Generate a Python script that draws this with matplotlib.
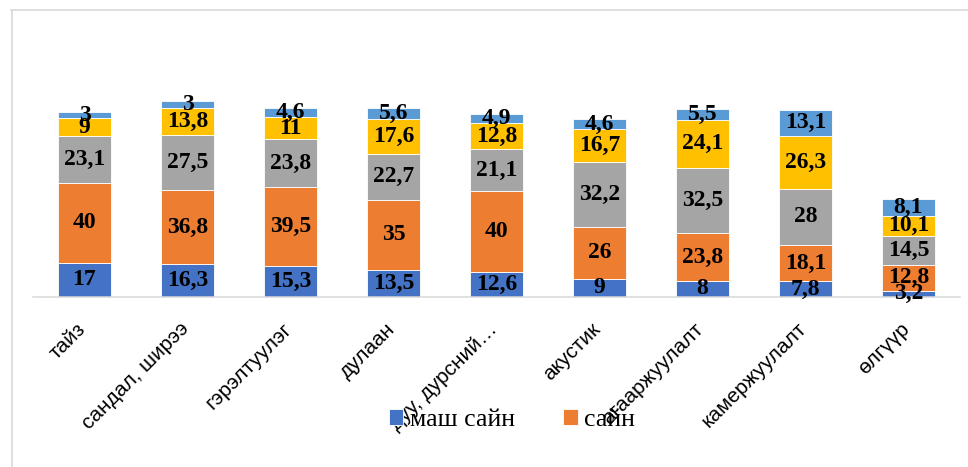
import numpy as np
import matplotlib
matplotlib.use("Agg")
import matplotlib.pyplot as plt
import matplotlib.transforms as mtransforms
from matplotlib.lines import Line2D

# categories along the x axis
categories = ["тайз", "сандал, ширээ", "гэрэлтуулэг", "дулаан", "дуу, дурсний…",
              "акустик", "агааржуулалт", "камержуулалт", "өлгүүр"]

# stacked series, bottom to top
s_mash_sain = [17, 16.3, 15.3, 13.5, 12.6, 9, 8, 7.8, 3.2]
s_sain = [40, 36.8, 39.5, 35, 40, 26, 23.8, 18.1, 12.8]
s_gray = [23.1, 27.5, 23.8, 22.7, 21.1, 32.2, 32.5, 28, 14.5]
s_yellow = [9, 13.8, 11, 17.6, 12.8, 16.7, 24.1, 26.3, 10.1]
s_lightblue = [3, 3, 4.6, 5.6, 4.9, 4.6, 5.5, 13.1, 8.1]

series = [s_mash_sain, s_sain, s_gray, s_yellow, s_lightblue]
legend_names = ["маш сайн", "сайн"]
colors = ["#4472C4", "#ED7D31", "#A5A5A5", "#FFC000", "#5B9BD5"]

fig = plt.figure(figsize=(9.68, 4.67), dpi=100)
ax = fig.add_axes([33/968, (467-297)/467, 927/968, 277/467])

x = np.arange(len(categories))
bottom = np.zeros(len(categories))
bars = []
for vals, c in zip(series, colors):
    vals = np.array(vals, dtype=float)
    b = ax.bar(x, vals, width=0.505, bottom=bottom, color=c,
               edgecolor="white", linewidth=0.6)
    bars.append(b)
    labels = [("%g" % v).replace(".", ",") for v in vals]
    ax.bar_label(b, labels=labels, label_type="center",
                 fontfamily="Liberation Serif", fontweight="bold",
                 fontsize=17, color="black")
    bottom += vals

ax.set_xlim(-0.5, len(categories) - 0.5)
ax.set_ylim(0, 138)
ax.set_yticks([])
for s in ["top", "right", "left"]:
    ax.spines[s].set_visible(False)
ax.spines["bottom"].set_color("#d9d9d9")
ax.spines["bottom"].set_linewidth(1.1)

ax.set_xticks(x)
ax.set_xticklabels(categories, rotation=45, ha="right", va="top",
                   fontfamily="Liberation Sans", fontsize=15)
ax.tick_params(axis="x", length=0, pad=16)
offset = mtransforms.ScaledTranslation(5/100, 0, fig.dpi_scale_trans)
for lab in ax.get_xticklabels():
    lab.set_transform(lab.get_transform() + offset)

leg = fig.legend([bars[0], bars[1]], legend_names, loc="center",
                 bbox_to_anchor=(512/968, (467-420)/467), ncol=2,
                 frameon=False, borderpad=0, handlelength=0.56,
                 handleheight=0.56, handletextpad=0.24, columnspacing=1.9,
                 prop={"family": "Liberation Serif", "size": 18.5})

# chart frame (only top and left edges are in view)
fig.add_artist(Line2D([11/968, 1], [1 - 9.5/467, 1 - 9.5/467],
                      transform=fig.transFigure, color="#d9d9d9", lw=1.2))
fig.add_artist(Line2D([11.5/968, 11.5/968], [0, 1 - 9.5/467],
                      transform=fig.transFigure, color="#d9d9d9", lw=1.2))

fig.savefig("out.png", dpi=100)
